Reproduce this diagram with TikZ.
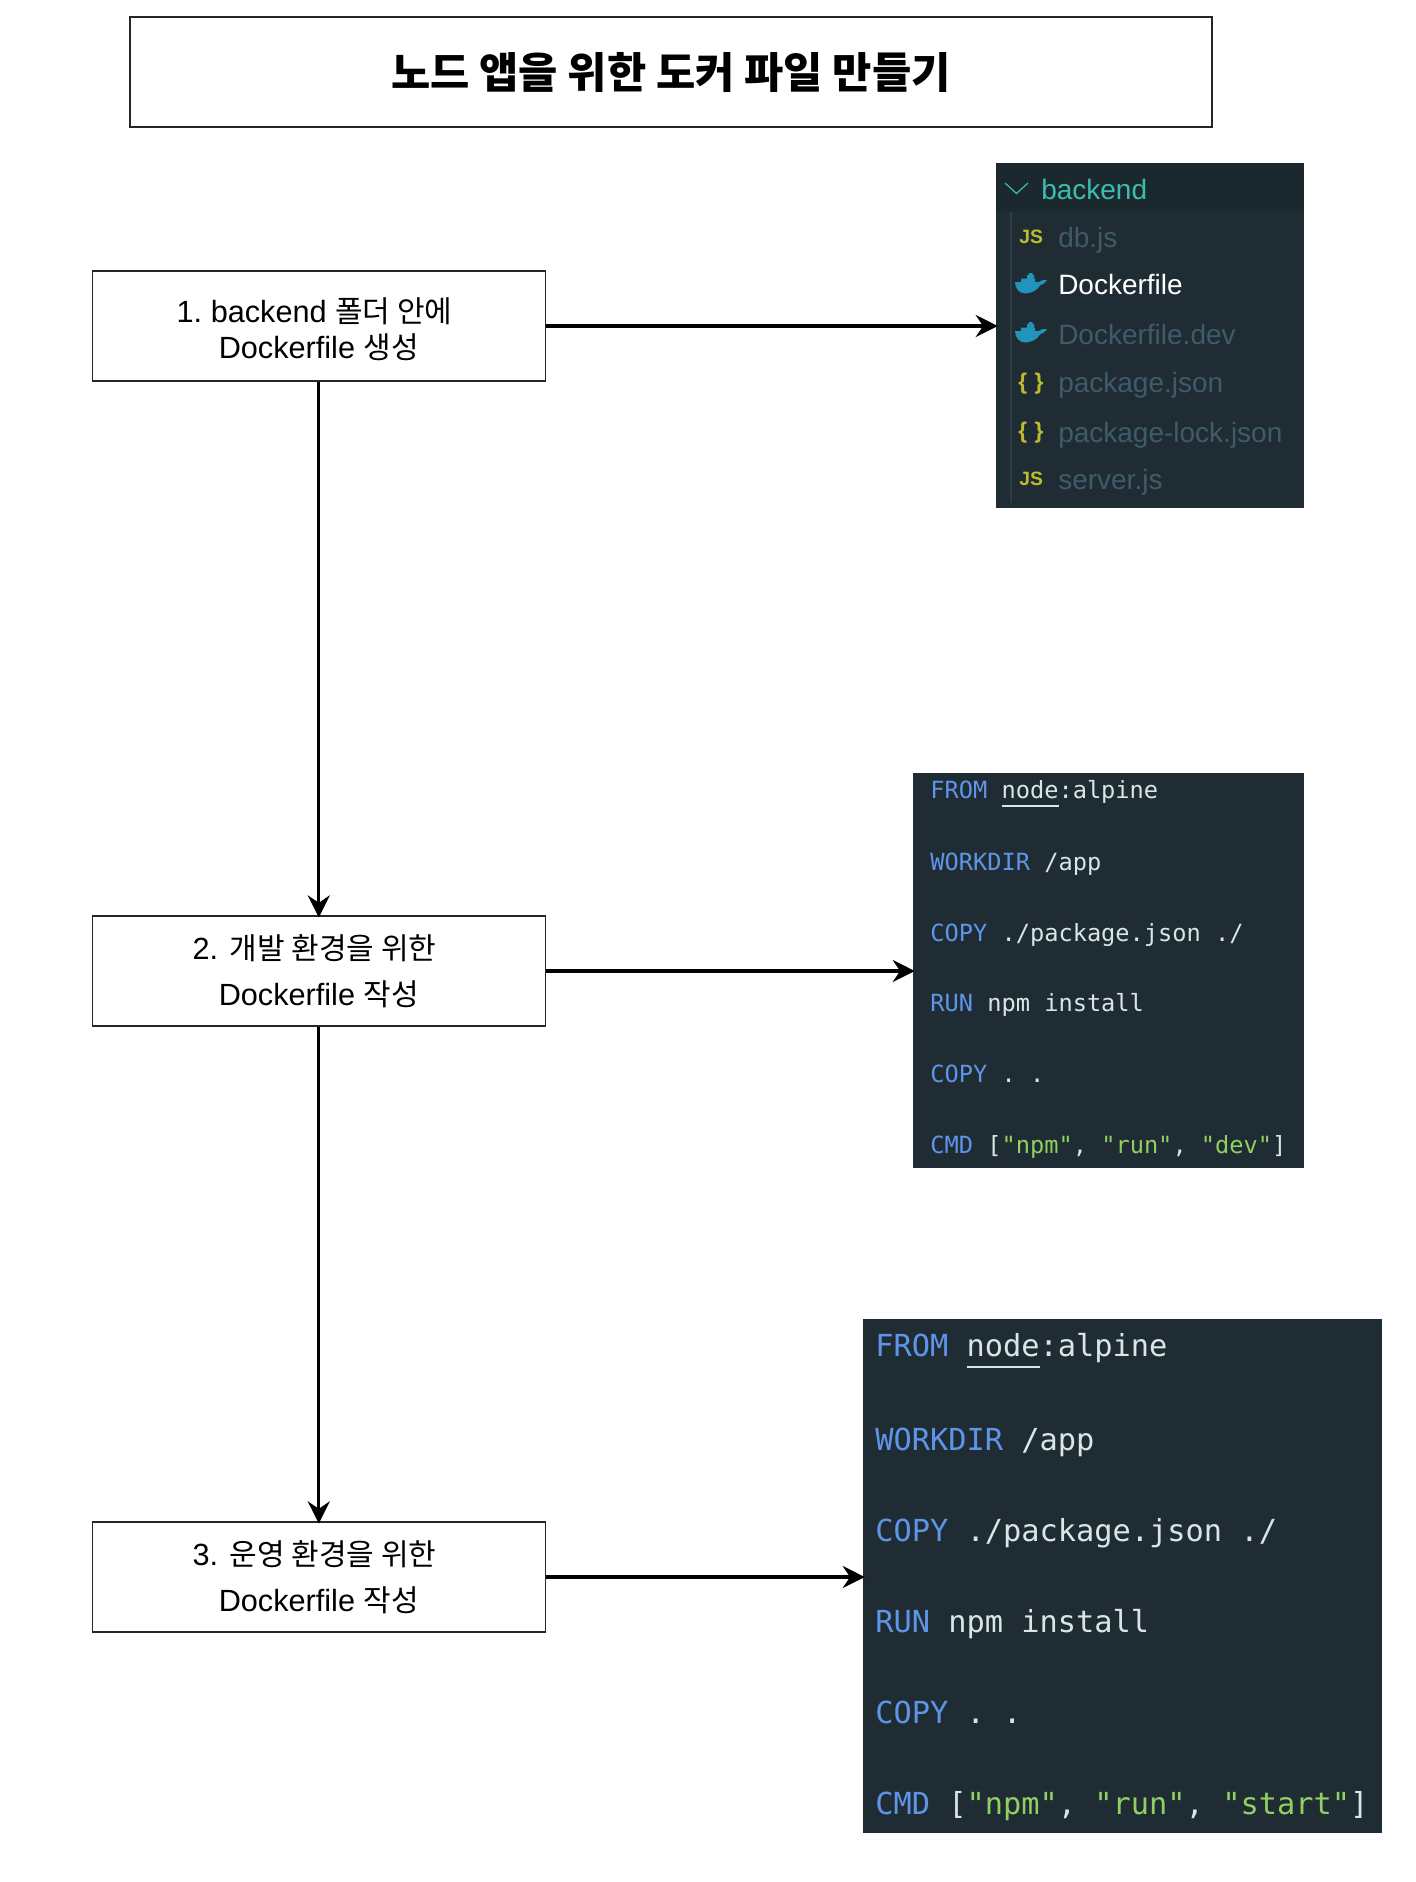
\documentclass[tikz,border=0pt]{standalone}
\usepackage{fontspec}
\setmainfont{Liberation Sans}
\newfontfamily\kr{Noto Sans CJK KR}
\newfontface\codefont{DejaVu Sans Mono}
\newfontface\filefont{Liberation Sans}
\newfontface\iconfont{Liberation Sans Bold}
\usetikzlibrary{arrows.meta}
\definecolor{panelbg}{HTML}{202C33}
\definecolor{headbg}{HTML}{1B282D}
\definecolor{teal}{HTML}{3DBDAE}
\definecolor{dimtxt}{HTML}{3F5B6A}
\definecolor{kwblue}{HTML}{5E95E8}
\definecolor{codew}{HTML}{D8E6E6}
\definecolor{strgreen}{HTML}{90D060}
\definecolor{whaleblue}{HTML}{2294BC}
\definecolor{iconyel}{HTML}{BDBC2E}
\definecolor{guide}{HTML}{2C3D46}
\newcommand{\kw}[1]{\textcolor{kwblue}{#1}}
\newcommand{\strg}[1]{\textcolor{strgreen}{#1}}
\newcommand{\krs}[1]{{\kr\fontsize{22.5}{27}\selectfont #1}}
\tikzset{
  x=0.75pt,y=-0.75pt,
  stepbox/.style={draw=black!85,line width=0.85pt,fill=white,inner sep=0pt,align=center,text=black},
  flow/.style={draw=black,line width=2.5pt,shorten >=-1.5pt,-{Stealth[length=16.5pt,width=16.5pt,inset=5.5pt]}},
  panel/.style={fill=panelbg,draw=none,inner sep=0pt},
  filetxt/.style={anchor=base west,inner sep=0pt,font=\filefont\fontsize{21}{25}\selectfont,text=dimtxt},
  iconjs/.style={anchor=base west,inner sep=0pt,font=\iconfont\fontsize{14.5}{17}\selectfont,text=iconyel},
  iconbr/.style={anchor=base west,inner sep=0pt,font=\iconfont\fontsize{17}{20}\selectfont,text=iconyel},
  codea/.style={anchor=base west,inner sep=0pt,font=\codefont\fontsize{17.75}{21}\selectfont,text=codew},
  codeb/.style={anchor=base west,inner sep=0pt,font=\codefont\fontsize{22.75}{27}\selectfont,text=codew},
  whale/.pic={
    \fill[whaleblue] (0,9) -- (24,9) .. controls (26,7.5) and (29,6) .. (32,7)
      .. controls (30,10) and (27,12) .. (25,12.5)
      .. controls (22,18) and (15,20.5) .. (10,20.5) .. controls (4,20.5) and (0,15) .. (0,9) -- cycle;
    \fill[whaleblue] (6,5.5) rectangle (20,9.5) (12,2) rectangle (19,6) (13.5,0) rectangle (17.5,3);
  }
}
\begin{document}
\begin{tikzpicture}
\useasboundingbox (0,0) rectangle (1416,1882);
\fill[white] (0,0) rectangle (1416,1882);

% title
\node[stepbox,minimum width=1082*0.75pt,minimum height=110*0.75pt,font=\kr\bfseries\fontsize{32}{38}\selectfont] (title) at (671,72) {노드 앱을 위한 도커 파일 만들기};

% step boxes
\node[stepbox,minimum width=453*0.75pt,minimum height=110*0.75pt,font=\fontsize{23}{27}\selectfont] (box1) at (318.8,326)
  {\rule{0pt}{23.2pt}1.\hspace{-2pt} backend \krs{폴더 안에}\hspace*{6.5pt}\\[0.4pt]Dockerfile \krs{생성}};
\node[stepbox,minimum width=453*0.75pt,minimum height=110*0.75pt,font=\fontsize{23}{27}\selectfont] (box2) at (318.8,971)
  {2. \krs{개발 환경을 위한}\hspace*{6.5pt}\\[7.8pt]Dockerfile \krs{작성}};
\node[stepbox,minimum width=453*0.75pt,minimum height=110*0.75pt,font=\fontsize{23}{27}\selectfont] (box3) at (318.8,1577)
  {3. \krs{운영 환경을 위한}\hspace*{6.5pt}\\[7.8pt]Dockerfile \krs{작성}};

% panels
\node[panel,minimum width=308*0.75pt,minimum height=345*0.75pt] (panelA) at (1150,335.5) {};
\node[panel,minimum width=391*0.75pt,minimum height=395*0.75pt] (panelB) at (1108.5,970.5) {};
\node[panel,minimum width=518.5*0.75pt,minimum height=514*0.75pt] (panelC) at (1122.25,1576) {};

% file tree
\fill[headbg] (panelA.north west) rectangle (1304,212);
\draw[guide,line width=1pt] (1011,212) -- (1011,503);
\draw[teal,line width=0.9pt] (1005,183) -- (1016.5,193.5) -- (1028,183);
\node[filetxt,text=teal] (fbackend) at (1041,199) {backend};
\node[iconjs] (ijs1) at (1019,243) {JS};
\node[filetxt] (fdb) at (1058,247) {db.js};
\pic at (1015,273) {whale};
\node[filetxt,text=white] (fdocker) at (1058,294) {Dockerfile};
\pic at (1015,322) {whale};
\node[filetxt] (fdev) at (1058,344) {Dockerfile.dev};
\node[iconbr] (ibr1) at (1018,389) {\{\,\,\}};
\node[filetxt] (fpkg) at (1058,392) {package.json};
\node[iconbr] (ibr2) at (1018,438) {\{\,\,\}};
\node[filetxt] (flock) at (1058,442) {package-lock.json};
\node[iconjs] (ijs2) at (1019,485) {JS};
\node[filetxt] (fserver) at (1058,489) {server.js};

% dev code
\node[codea] (a1) at (930,798) {\kw{FROM} node:alpine};
\node[codea] (a2) at (930,870) {\kw{WORKDIR} /app};
\node[codea] (a3) at (930,941) {\kw{COPY} ./package.json ./};
\node[codea] (a4) at (930,1011) {\kw{RUN} npm install};
\node[codea] (a5) at (930,1082) {\kw{COPY} . .};
\node[codea] (a6) at (930,1153) {\kw{CMD} [\strg{"npm"}, \strg{"run"}, \strg{"dev"}]};
\draw[codew,line width=0.9pt] (1001.5,806) -- (1058.5,806);

% prod code
\node[codeb] (b1) at (875,1356.5) {\kw{FROM} node:alpine};
\node[codeb] (b2) at (875,1450) {\kw{WORKDIR} /app};
\node[codeb] (b3) at (875,1541) {\kw{COPY} ./package.json ./};
\node[codeb] (b4) at (875,1632) {\kw{RUN} npm install};
\node[codeb] (b5) at (875,1723) {\kw{COPY} . .};
\node[codeb] (b6) at (875,1814.5) {\kw{CMD} [\strg{"npm"}, \strg{"run"}, \strg{"start"}]};
\draw[codew,line width=1pt] (966.5,1367) -- (1040,1367);

% connectors
\draw[flow] (box1.south) -- (box2.north);
\draw[flow] (box2.south) -- (box3.north);
\draw[flow] (box1.east) -- (box1.east -| panelA.west);
\draw[flow] (box2.east) -- (box2.east -| panelB.west);
\draw[flow] (box3.east) -- (box3.east -| panelC.west);
\end{tikzpicture}
\end{document}
